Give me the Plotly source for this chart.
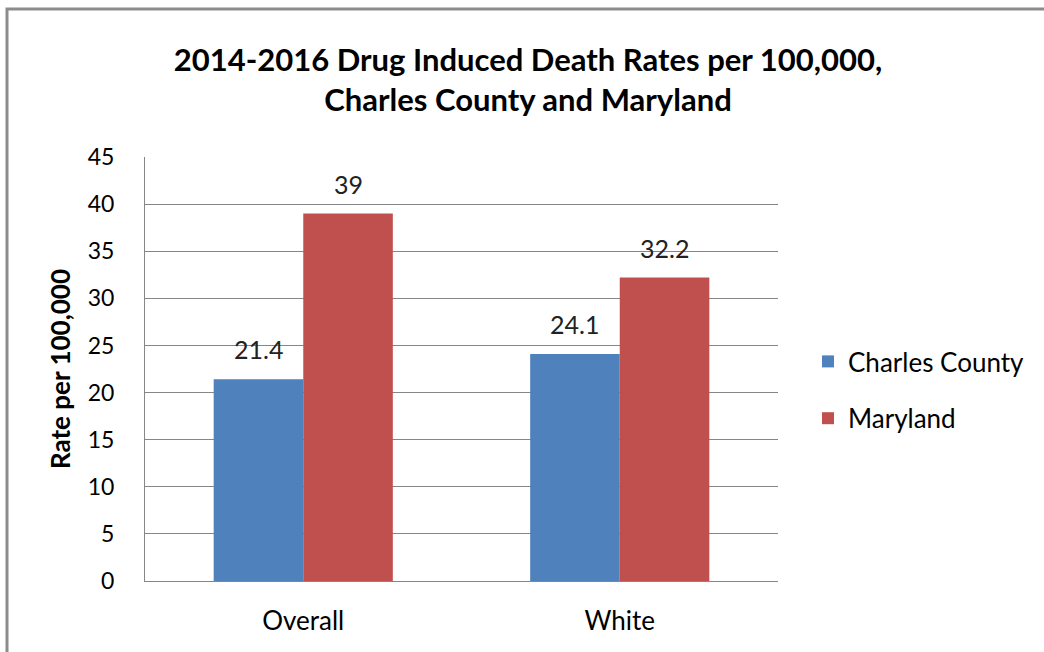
import plotly.graph_objects as go

categories = ["Overall", "White"]
series_names = ["Charles County", "Maryland"]
charles = [21.4, 24.1]
maryland = [39, 32.2]
label_charles = ["21.4", "24.1"]
label_maryland = ["39", "32.2"]
colors = ["#4F81BD", "#C0504D"]
tick_vals = [0, 5, 10, 15, 20, 25, 30, 35, 40, 45]

FONT = "Lato, 'Open Sans', sans-serif"

# plot area in pixels
L, R, T, B = 145, 778, 157, 581
PW, PH = R - L, B - T

fig = go.Figure()
fig.add_trace(go.Bar(name=series_names[0], x=categories, y=charles, marker_color=colors[0],
                     marker_line_width=0, legendgroup="a"))
fig.add_trace(go.Bar(name=series_names[1], x=categories, y=maryland, marker_color=colors[1],
                     marker_line_width=0, legendgroup="b"))

annots = []
for i, c in enumerate(categories):
    annots.append(dict(x=c, y=charles[i], text=label_charles[i], xref="x", yref="y",
                       showarrow=False, xshift=-45, yshift=30,
                       font=dict(size=25, color="#222", family=FONT)))
    annots.append(dict(x=c, y=maryland[i], text=label_maryland[i], xref="x", yref="y",
                       showarrow=False, xshift=45, yshift=30,
                       font=dict(size=25, color="#222", family=FONT)))

fig.update_layout(
    width=1044, height=652,
    margin=dict(l=L, r=1044 - R, t=T, b=652 - B),
    paper_bgcolor="white", plot_bgcolor="white",
    barmode="group", bargap=0.434, bargroupgap=0,
    font=dict(family=FONT, color="#000"),
    title=dict(text="<b>2014-2016 Drug Induced Death Rates per 100,000,<br>Charles County and Maryland</b>",
               x=528/1044, xanchor="center", y=1 - 71/652, yanchor="middle",
               font=dict(size=31, family=FONT, color="#000")),
    showlegend=True,
    legend=dict(x=(808 - L)/PW, y=(B - 390)/PH, yanchor="middle", xanchor="left",
                font=dict(size=26, family=FONT, color="#000"),
                itemwidth=30, tracegroupgap=20, bgcolor="rgba(0,0,0,0)"),
    annotations=annots,
    shapes=[dict(type="rect", xref="paper", yref="paper",
                 x0=(7 - L)/PW, x1=(1060 - L)/PW, y0=(B - 670)/PH, y1=(B - 9)/PH,
                 line=dict(color="#8C8C8C", width=3), fillcolor="rgba(0,0,0,0)", layer="below")],
)
fig.update_xaxes(showline=True, linecolor="#868686", linewidth=1, ticks="",
                 tickfont=dict(size=26, family=FONT, color="#000"), ticklabelstandoff=17)
fig.update_yaxes(range=[0, 45], tickvals=tick_vals, showgrid=True, gridcolor="#868686",
                 gridwidth=1, showline=True, linecolor="#868686", linewidth=1, ticks="",
                 tickfont=dict(size=23, family=FONT, color="#000"), ticklabelstandoff=25,
                 zeroline=False, mirror=False,
                 title=dict(text="<b>Rate per 100,000</b>", font=dict(size=26, family=FONT, color="#000"),
                            standoff=9))

fig.write_html("out.html", post_script="document.body.style.margin='0';",
               config={"displayModeBar": False})
